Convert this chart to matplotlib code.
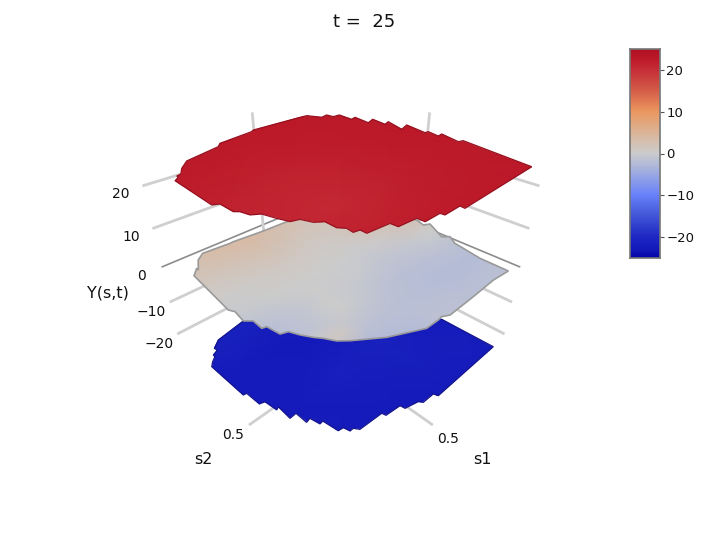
import numpy as np
import matplotlib
matplotlib.use('Agg')
import matplotlib.pyplot as plt
from matplotlib.colors import LinearSegmentedColormap, Normalize
from matplotlib.path import Path
from matplotlib.patches import PathPatch
from mpl_toolkits.mplot3d import proj3d

# ---------- data ----------
title_text = 't =  25'
z_ticks = [20, 10, 0, -10, -20]
s_tick = 0.5
s_lim = (-0.08, 1.08)
z_lim = (-29, 29)
cbar_lim = (-25, 25)

grid_coarse = [-0.3, 0.05, 0.35, 0.65, 0.95, 1.25]
grid_mid = [-0.3, -0.07, 0.06, 0.19, 0.32, 0.45, 0.58, 0.71, 0.84, 0.97, 1.25]

# rows follow s1, columns follow s2
Y_top = [[22.6, 22.6, 22.6, 22.6, 22.6, 22.6],
         [22.6, 22.4, 22.3, 22.2, 22.4, 22.6],
         [22.6, 22.2, 21.6, 21.5, 22.1, 22.6],
         [22.6, 22.0, 21.0, 20.6, 21.7, 22.6],
         [22.6, 22.2, 21.3, 20.8, 21.9, 22.6],
         [22.6, 22.6, 22.3, 22.2, 22.4, 22.6]]
Y_mid = [[1.5, 1.5, 1.5, 2.0, 2.5, 2.5, 0.0, -1.5, -2.5, -1.8, -1.5],
         [1.5, 1.5, 1.5, 2.0, 3.0, 3.0, 0.0, -1.5, -2.5, -1.8, -1.5],
         [1.5, 1.5, 1.5, 2.0, 3.5, 2.0, -0.5, -1.8, -2.5, -2.0, -1.5],
         [1.5, 1.5, 1.5, 2.0, 3.0, 0.5, -1.0, -2.0, -2.5, -2.0, -1.5],
         [2.0, 2.0, 2.0, 1.5, 1.0, -0.2, -1.0, -2.0, -2.2, -1.8, -1.5],
         [2.5, 2.5, 2.5, 1.5, 0.5, 0.0, -0.5, -1.5, -2.0, -1.8, -1.5],
         [3.5, 3.5, 3.0, 2.0, 0.8, 0.0, -0.2, -0.8, -1.8, -2.5, -2.0],
         [4.5, 4.5, 4.0, 2.5, 1.0, 0.0, 0.0, 0.0, -1.5, -3.5, -3.0],
         [4.0, 4.0, 3.5, 2.0, 0.5, 0.0, -1.0, -1.0, 0.8, -4.0, -3.5],
         [3.0, 3.0, 3.0, 1.5, 0.2, -0.5, -2.0, -2.0, 0.5, -3.5, -4.0],
         [3.0, 3.0, 3.0, 1.0, 0.0, -1.0, -2.5, -2.0, 0.0, -4.0, -4.0]]
Y_bot = [[-22.6, -22.6, -22.6, -22.6, -22.6, -22.6],
         [-22.6, -22.0, -22.4, -22.6, -22.2, -22.6],
         [-22.6, -22.4, -22.6, -21.6, -22.2, -22.6],
         [-22.6, -21.6, -23.0, -21.8, -22.8, -22.6],
         [-22.6, -21.4, -22.8, -22.6, -22.2, -22.6],
         [-22.6, -22.6, -22.6, -22.6, -22.6, -22.6]]

top_edge_s1 = [1.021,0.995,0.992,0.970,0.936,0.878,0.682,0.651,0.443,0.421,0.112,0.066,0.030,-0.019,-0.023,-0.068,-0.057,-0.096,-0.076,-0.136,-0.116,-0.163,-0.112,-0.186,-0.152,-0.176,-0.156,-0.193,-0.155,-0.183,-0.104,0.426,0.423,0.518,0.520,0.606,0.606,0.696,0.698,0.802,0.801,0.828,0.824,0.844,0.842,0.872,0.890,0.924,0.941,0.957,0.989,0.999,1.015,1.014,1.039]
top_edge_s2 = [0.102,0.081,0.064,0.057,0.005,-0.055,-0.113,-0.146,-0.183,-0.198,-0.198,-0.196,-0.116,-0.129,-0.081,-0.080,0.023,0.011,0.126,0.102,0.206,0.188,0.319,0.292,0.434,0.436,0.511,0.504,0.626,0.634,1.020,1.041,1.018,1.021,1.002,1.003,0.968,0.962,0.928,0.919,0.889,0.884,0.850,0.824,0.767,0.743,0.695,0.684,0.634,0.572,0.550,0.505,0.489,0.404,0.390]
mid_edge_s1 = [0.999,0.958,0.960,0.914,0.866,0.717,0.696,0.531,0.156,-0.030,-0.146,-0.126,-0.160,-0.090,-0.120,-0.081,-0.046,-0.042,0.072,0.243,0.418,0.451,0.478,0.552,0.703,0.815,0.852,0.877,0.900,0.927,0.946,0.978,0.987,1.007,1.003,1.031,1.020,1.033]
mid_edge_s2 = [0.059,0.014,0.031,-0.045,-0.083,-0.070,-0.072,-0.055,-0.038,0.149,0.437,0.498,0.516,0.641,0.671,0.728,0.894,1.045,1.035,1.040,1.042,1.024,1.027,1.025,0.949,0.864,0.829,0.783,0.752,0.705,0.659,0.647,0.576,0.570,0.510,0.482,0.409,0.380]
bot_edge_s1 = [0.708,0.895,0.946,0.942,0.977,0.978,1.006,1.029,1.027,1.010,1.007,0.981,0.973,0.956,0.961,0.924,0.924,0.899,0.888,0.869,0.857,0.830,0.822,0.802,0.786,0.653,0.648,0.561,0.557,0.484,0.471,0.397,0.389,-0.089,-0.085,0.230]
bot_edge_s2 = [-0.061,-0.024,0.017,0.039,0.056,0.072,0.095,0.122,0.385,0.388,0.481,0.489,0.564,0.555,0.643,0.640,0.711,0.705,0.759,0.756,0.841,0.845,0.878,0.878,0.902,0.911,0.932,0.941,0.967,0.985,1.004,1.006,1.029,1.034,0.712,0.277]
edge_level = {'top': 23, 'mid': -1, 'bot': -26}

cmap_vals = [-25, -23, -20, -15, -10, -2.5, 0, 5, 10, 15, 20, 22, 25]
cmap_rgb = [(5,5,165),(20,25,185),(30,40,195),(65,85,215),(105,130,250),(180,188,215),(204,204,204),(220,180,150),(235,150,95),(212,92,72),(197,45,55),(190,28,42),(175,15,35)]

W, H = 728, 549
plt.rcParams['font.family'] = 'DejaVu Sans'
cm = LinearSegmentedColormap.from_list('cw', [((v - cmap_vals[0]) / (cmap_vals[-1] - cmap_vals[0]), tuple(c / 255 for c in rgb)) for v, rgb in zip(cmap_vals, cmap_rgb)], N=512)
norm = Normalize(*cbar_lim)

fig = plt.figure(figsize=(W / 100, H / 100), dpi=100)
ax = fig.add_axes([59 / W, 0, H / W, 1], projection='3d')
ax.set_proj_type('persp', focal_length=0.1665)
ax.view_init(elev=33, azim=45)
ax.set_box_aspect((1, 1, 1), zoom=0.777)
ax.set_xlim(*s_lim, view_margin=0)
ax.set_ylim(*s_lim, view_margin=0)
ax.set_zlim(*z_lim, view_margin=0)
ax.set_axis_off()
ax.patch.set_alpha(0)
ax.apply_aspect()
M = ax.get_proj()

# wall and floor grid lines
lo, hi = s_lim
for z in z_ticks:
    col, lw = ('#8c8c8c', 1.2) if z == 0 else ('#cfcfcf', 2.0)
    ax.plot([hi, lo, lo], [lo, lo, hi], [z, z, z], color=col, lw=lw, solid_capstyle='butt')
ax.plot([s_tick, s_tick], [lo, lo], z_lim, color='#cfcfcf', lw=2.0)
ax.plot([lo, lo], [s_tick, s_tick], z_lim, color='#cfcfcf', lw=2.0)
ax.plot([s_tick, s_tick], [hi, lo], [z_lim[0]] * 2, color='#cfcfcf', lw=2.0)
ax.plot([hi, lo], [s_tick, s_tick], [z_lim[0]] * 2, color='#cfcfcf', lw=2.0)

# surfaces: Gouraud meshes drawn on the 3D axes' projection
over = fig.add_axes([0, 0, 1, 1], zorder=5)
over.set_xlim(0, 1); over.set_ylim(0, 1)
over.set_axis_off()
over.patch.set_alpha(0)

def surface(order, grid, values, e1, e2, level, edge_col, lw):
    s1, s2 = np.meshgrid(grid, grid, indexing='ij')
    v = np.array(values, float)
    X, Y, _ = proj3d.proj_transform(s1.ravel(), s2.ravel(), v.ravel(), M)
    X = X.reshape(s1.shape); Y = Y.reshape(s1.shape)
    mesh = over.pcolormesh(X, Y, v, shading='gouraud', cmap=cm, norm=norm, transform=ax.transData, zorder=order)
    ex, ey, _ = proj3d.proj_transform(np.array(e1 + e1[:1]), np.array(e2 + e2[:1]), np.full(len(e1) + 1, float(level)), M)
    path = Path(np.column_stack([ex, ey]), closed=True)
    patch = PathPatch(path, transform=ax.transData, fc='none', ec=edge_col, lw=lw, zorder=order + 0.5, joinstyle='miter')
    over.add_patch(patch)
    mesh.set_clip_path(patch)

surface(1, grid_coarse, Y_bot, bot_edge_s1, bot_edge_s2, edge_level['bot'], '#14148c', 0.9)
surface(2, grid_mid, Y_mid, mid_edge_s1, mid_edge_s2, edge_level['mid'], '#9a9a9a', 1.2)
surface(3, grid_coarse, Y_top, top_edge_s1, top_edge_s2, edge_level['top'], '#96101f', 0.9)

# labels
def label(px, py, s, size, **kw):
    fig.text(px / W, 1 - py / H, s, fontsize=size, ha='center', va='center', color='#111111', zorder=10, **kw)

label(364.5, 22, title_text, 13)
for px, py, t in zip([121, 131, 142, 151, 159], [194, 237, 276, 312, 344], z_ticks):
    label(px, py, str(t).replace('-', '\u2212'), 10)
label(233, 435, '0.5', 10)
label(448, 439, '0.5', 10)
label(108, 293, 'Y(s,t)', 11.5)
label(203, 459, 's2', 11.5)
label(482, 460, 's1', 11.5)

# colour bar
cax = fig.add_axes([630 / W, 1 - 258 / H, 30 / W, 209 / H], zorder=6)
cax.imshow(np.linspace(1, 0, 512).reshape(-1, 1), cmap=cm, aspect='auto', extent=[0, 1, *cbar_lim], vmin=0, vmax=1)
cax.set_xticks([])
cax.yaxis.tick_right()
cax.set_yticks(z_ticks)
cax.set_yticklabels([str(t).replace('-', '\u2212') for t in z_ticks], fontsize=9.5, color='#111111')
cax.tick_params(axis='y', length=3, width=0.8, color='#555555', pad=1.5)
for sp in cax.spines.values():
    sp.set_color('#777777'); sp.set_linewidth(1.2)

fig.savefig('out.png', dpi=100)
